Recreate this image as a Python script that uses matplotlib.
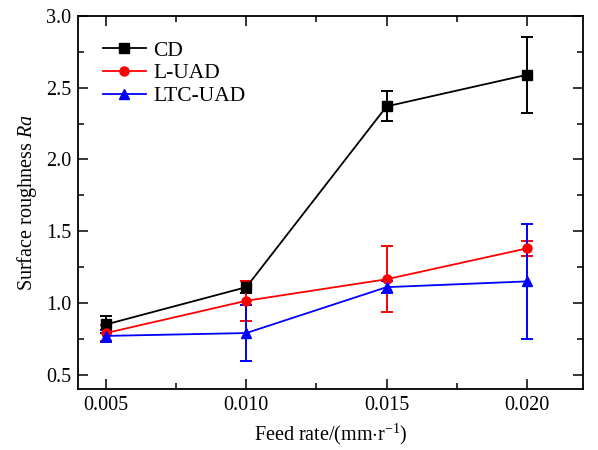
import matplotlib
matplotlib.use("Agg")
import matplotlib.pyplot as plt
from matplotlib.ticker import MultipleLocator, FormatStrFormatter
from matplotlib.lines import Line2D

plt.rcParams['font.family'] = ['Liberation Serif', 'DejaVu Serif']
plt.rcParams['mathtext.fontset'] = 'custom'
plt.rcParams['mathtext.it'] = 'Liberation Serif:italic'
plt.rcParams['mathtext.rm'] = 'Liberation Serif'

feed = [0.005, 0.010, 0.015, 0.020]

cd = [0.85, 1.11, 2.37, 2.59]
cd_err = [0.06, 0.04, 0.105, 0.265]

luad = [0.79, 1.015, 1.165, 1.38]
luad_err = [0.055, 0.14, 0.23, 0.055]

ltc = [0.77, 0.79, 1.11, 1.15]
ltc_err = [0.04, 0.195, 0.04, 0.40]

fig = plt.figure(figsize=(5.98, 4.5), dpi=100)
ax = fig.add_axes([78/598, 1-389/450, (583-78)/598, (389-16)/450])

kw = dict(capsize=4, elinewidth=1.4, capthick=1.4, linewidth=1.3, markersize=6.5)
series = [
    (cd, cd_err, 'black', 's', 'CD'),
    (luad, luad_err, 'red', 'o', 'L-UAD'),
    (ltc, ltc_err, 'blue', '^', 'LTC-UAD'),
]
handles = []
for vals, errs, col, mk, lab in series:
    ax.errorbar(feed, vals, yerr=errs, color=col, marker=mk, **kw)
    handles.append(Line2D([], [], color=col, marker=mk, linewidth=1.3,
                          markersize=6.5, label=lab))

ax.set_xlim(0.004, 0.022)
ax.set_ylim(0.4, 3.0)
ax.set_xticks(feed)
ax.set_xticklabels(['0.005', '0.010', '0.015', '0.020'])
ax.xaxis.set_minor_locator(MultipleLocator(0.0025))
ax.yaxis.set_major_locator(MultipleLocator(0.5))
ax.yaxis.set_minor_locator(MultipleLocator(0.25))
ax.yaxis.set_major_formatter(FormatStrFormatter('%.1f'))
ax.tick_params(which='both', direction='in', top=True, right=True, labelsize=14.5)
ax.tick_params(which='major', length=7, width=1.1, pad=5)
ax.tick_params(which='minor', length=4, width=1.1)
for s in ax.spines.values():
    s.set_linewidth(1.3)

ax.set_xlabel('Feed rate/(mm$\\cdot$r$^{-1}$)', fontsize=14.5, labelpad=5)
ax.set_ylabel('Surface roughness $\\mathit{Ra}$', fontsize=14.5, labelpad=5)

ax.legend(handles=handles, loc='upper left', frameon=False, fontsize=15.5,
          handlelength=2.0, handletextpad=0.35, borderaxespad=0.75,
          labelspacing=0.12)

fig.savefig('out.png', dpi=100)
